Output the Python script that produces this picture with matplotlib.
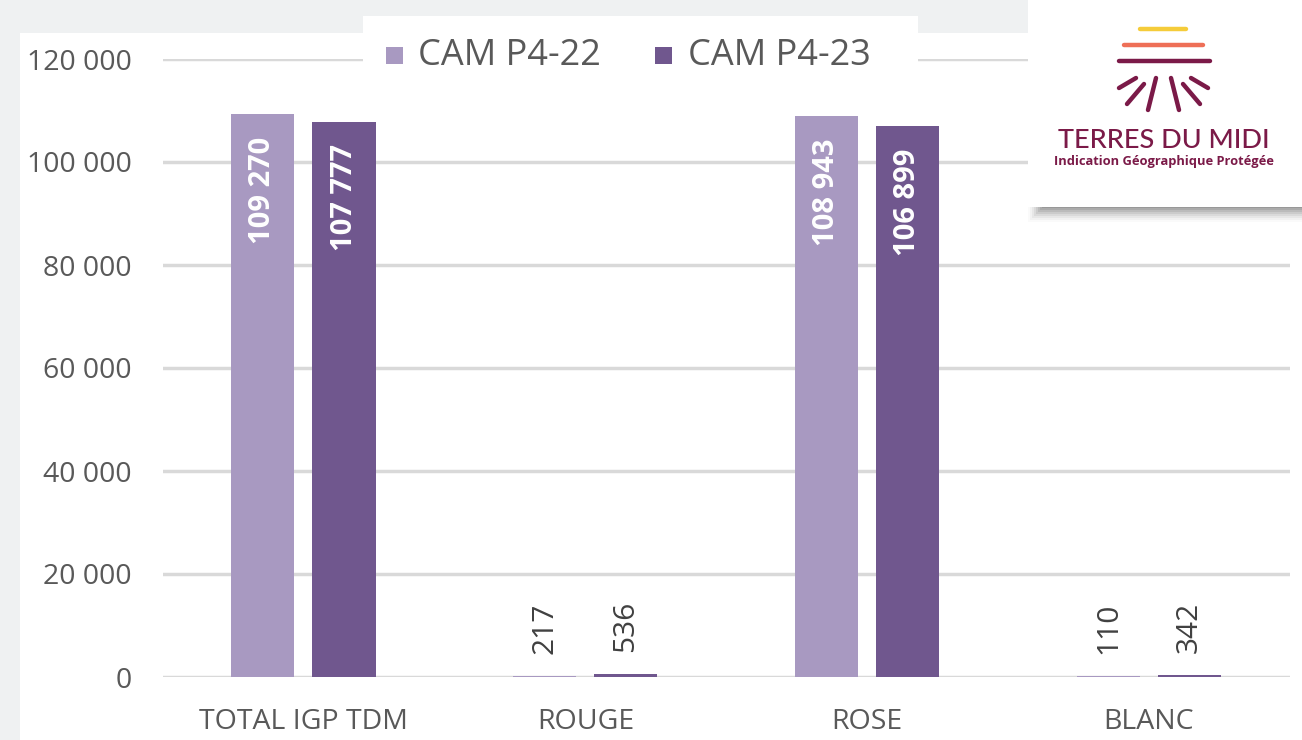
import numpy as np
import matplotlib.pyplot as plt
from matplotlib.patches import Rectangle
from matplotlib.lines import Line2D

categories = ["TOTAL IGP TDM", "ROUGE", "ROSE", "BLANC"]
series_names = ["CAM P4-22", "CAM P4-23"]
cam_p4_22 = [109270, 217, 108943, 110]
cam_p4_23 = [107777, 536, 106899, 342]
y_ticks = [0, 20000, 40000, 60000, 80000, 100000, 120000]

light = "#a899c1"
dark = "#70578e"
text_grey = "#595959"

def fmt(v):
    return f"{v:,}".replace(",", " ")

fig = plt.figure(figsize=(13.02, 7.40), dpi=100, facecolor="#eff1f2")
W, H = 1302, 740

def px(x, y):
    return x / W, 1 - y / H

# white slide panel behind the chart
fig.patches.append(Rectangle(px(20, 740), (1302 - 20) / W, (740 - 33) / H,
                             transform=fig.transFigure, facecolor="white",
                             edgecolor="none", zorder=-1))

ax = fig.add_axes([162.5 / W, 1 - 677 / H, (1290 - 162.5) / W, (677 - 59) / H])
ax.set_facecolor("none")
x = np.arange(len(categories))
width = 0.224
off = 0.144
b1 = ax.bar(x - off, cam_p4_22, width, color=light, zorder=2)
b2 = ax.bar(x + off, cam_p4_23, width, color=dark, zorder=2)

ax.set_xlim(-0.5, len(categories) - 0.5)
ax.set_ylim(0, 120000)
ax.set_yticks(y_ticks)
ax.set_yticklabels([fmt(v) for v in y_ticks])
ax.set_xticks(x)
ax.set_xticklabels(categories)
ax.yaxis.grid(True, color="#d9d9d9", lw=2.5, zorder=0)
ax.tick_params(length=0, labelsize=20.5, labelcolor=text_grey)
ax.tick_params(axis="y", pad=22)
ax.tick_params(axis="x", pad=22)
for lab in ax.get_xticklabels() + ax.get_yticklabels():
    lab.set_fontfamily("Open Sans")
for s in ax.spines.values():
    s.set_visible(False)

# value labels: inside the tall bars, above the tiny ones
for bars, vals in ((b1, cam_p4_22), (b2, cam_p4_23)):
    for bar, v in zip(bars, vals):
        cx = bar.get_x() + bar.get_width() / 2
        if v > 10000:
            ax.annotate(fmt(v), (cx, v), xytext=(0, -16), textcoords="offset points",
                        rotation=90, ha="center", va="top", color="white",
                        fontsize=21, fontweight="bold", family="Open Sans", zorder=3)
        else:
            ax.annotate(fmt(v), (cx, v), xytext=(0, 16), textcoords="offset points",
                        rotation=90, ha="center", va="bottom", color="#404040",
                        fontsize=21.5, family="Open Sans", zorder=3)

# legend in a white box at the top
fig.patches.append(Rectangle(px(363, 75), (918 - 363) / W, (75 - 16) / H,
                             transform=fig.transFigure, facecolor="white",
                             edgecolor="none", zorder=1))
for (lx, tx), name, col in zip(((386, 418), (655, 688)), series_names, (light, dark)):
    fig.patches.append(Rectangle(px(lx, 64), 17 / W, 17 / H, transform=fig.transFigure,
                                 facecolor=col, edgecolor="none", zorder=2))
    fig.text(*px(tx, 56), name, fontsize=26, color=text_grey, va="center",
             family="Open Sans", zorder=3)

# logo card with a soft shadow
for i, a in enumerate(np.linspace(0.02, 0.10, 8)):
    fig.patches.append(Rectangle(px(1028 + 2 * i, 222 - 2 * i), (274 - 2 * i) / W,
                                 (222 - 2 * i) / H, transform=fig.transFigure,
                                 facecolor="black", alpha=a, edgecolor="none", zorder=4))
fig.patches.append(Rectangle(px(1028, 207), 274 / W, 207 / H, transform=fig.transFigure,
                             facecolor="white", edgecolor="none", zorder=5))

maroon = "#7b1a48"
for (x0, x1, y0), col in (((1140, 1186, 29), "#f5cc3a"),
                          ((1124, 1203, 45), "#ee6f57"),
                          ((1119, 1210, 61), maroon)):
    fig.add_artist(Line2D([x0 / W, x1 / W], [1 - y0 / H, 1 - y0 / H],
                          transform=fig.transFigure, color=col, lw=3.2,
                          solid_capstyle="round", zorder=6))
rays = [((1119, 88), (1136, 78)), ((1127, 104), (1144, 84)), ((1148, 110), (1156, 78)),
        ((1179, 110), (1171, 78)), ((1200, 104), (1183, 84)), ((1208, 88), (1191, 78))]
for (xa, ya), (xb, yb) in rays:
    fig.add_artist(Line2D([xa / W, xb / W], [1 - ya / H, 1 - yb / H],
                          transform=fig.transFigure, color=maroon, lw=3.2,
                          solid_capstyle="round", zorder=6))
fig.text(*px(1164, 141), "TERRES DU MIDI", fontsize=19.5, color=maroon, ha="center",
         va="center", family="Lato", fontweight="medium", zorder=6)
fig.text(*px(1164, 162), "Indication Géographique Protégée", fontsize=9.3,
         color=maroon, ha="center", va="center", fontweight="bold",
         family="Open Sans", zorder=6)

fig.savefig("out.png", dpi=100, facecolor=fig.get_facecolor())
